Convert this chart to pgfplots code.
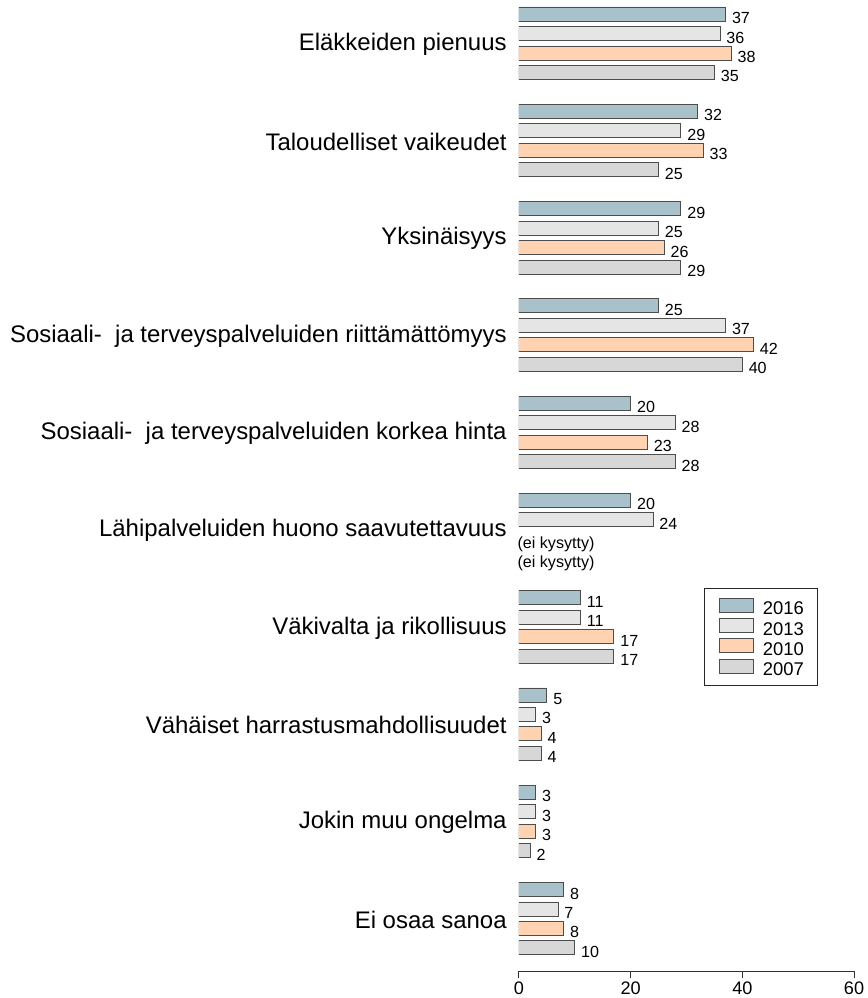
\documentclass[border=0pt]{standalone}
\usepackage{pgfplots}
\pgfplotsset{compat=1.18}
\usepackage{fontspec}
\setmainfont{Liberation Sans}
\definecolor{c16}{HTML}{A8C1CB}
\definecolor{c13}{HTML}{E5E5E5}
\definecolor{c10}{HTML}{FFD2B2}
\definecolor{c07}{HTML}{D7D7D7}
\definecolor{edge}{HTML}{4D4D4D}
\begin{document}
\begin{tikzpicture}
\begin{axis}[
  scale only axis,
  width=333pt, height=965pt,
  xmin=0, xmax=60, ymin=-1.2, ymax=48.72,
  axis x line*=bottom, axis y line*=left,
  y axis line style={draw=none},
  x axis line style={draw=black!80, line width=0.8pt},
  xtick={0,20,40,60},
  tick align=outside,
  x tick style={draw=black!80, line width=0.8pt},
  major tick length=7pt,
  xticklabel style={font=\fontsize{18}{20}\selectfont},
  /pgf/number format/assume math mode=true,
  ytick={1.5,6.5,11.5,16.5,21.5,26.5,31.5,36.5,41.5,46.5},
  y tick style={draw=none},
  yticklabel style={font=\fontsize{23.8}{26}\selectfont, inner sep=0pt, xshift=-5pt, yshift=-1pt},
  yticklabels={Ei osaa sanoa, Jokin muu ongelma, Vähäiset harrastusmahdollisuudet, Väkivalta ja rikollisuus, Lähipalveluiden huono saavutettavuus, Sosiaali-\ \ ja terveyspalveluiden korkea hinta, Sosiaali-\ \ ja terveyspalveluiden riittämättömyys, Yksinäisyys, Taloudelliset vaikeudet, Eläkkeiden pienuus},
  mybar/.style={xbar, bar width=0.72, bar shift=0pt, draw=edge, line width=0.8pt,
    nodes near coords, point meta=x,
    nodes near coords style={font=\fontsize{16}{18}\selectfont, anchor=west, inner sep=0pt, xshift=6pt, yshift=-4pt, text=black},
    legend image code/.code={\draw[##1,/tikz/.cd] (2.5pt,-4pt) rectangle (36.5pt,10pt);}},
  legend style={at={(axis cs:53.6,18.52)}, anchor=north east, draw=black!85, line width=0.8pt,
    font=\fontsize{18.3}{20}\selectfont, inner xsep=14pt, inner ysep=9.5pt, row sep=3.2pt,
    column sep=9pt,
    nodes={inner sep=0pt, text height=13.3pt, text depth=0pt},
    cells={anchor=west}},
  legend cell align=left,
]
\addplot[mybar, fill=c16] coordinates {(37,48) (32,43) (29,38) (25,33) (20,28) (20,23) (11,18) (5,13) (3,8) (8,3)};
\addlegendentry{2016}
\addplot[mybar, fill=c13] coordinates {(36,47) (29,42) (25,37) (37,32) (28,27) (24,22) (11,17) (3,12) (3,7) (7,2)};
\addlegendentry{2013}
\addplot[mybar, fill=c10] coordinates {(38,46) (33,41) (26,36) (42,31) (23,26) (17,16) (4,11) (3,6) (8,1)};
\addlegendentry{2010}
\addplot[mybar, fill=c07] coordinates {(35,45) (25,40) (29,35) (40,30) (28,25) (17,15) (4,10) (2,5) (10,0)};
\addlegendentry{2007}
\addplot[forget plot, draw=none, mark=none, point meta=explicit symbolic,
  nodes near coords={\pgfplotspointmeta},
  nodes near coords style={font=\fontsize{16}{18}\selectfont, anchor=west, inner sep=0pt, xshift=-1.5pt, yshift=-5pt, text=black}]
  coordinates {(0,21) [{(ei kysytty)}] (0,20) [{(ei kysytty)}]};
\end{axis}
\path (current bounding box.west) ++(-10pt,0pt);
\end{tikzpicture}
\end{document}
